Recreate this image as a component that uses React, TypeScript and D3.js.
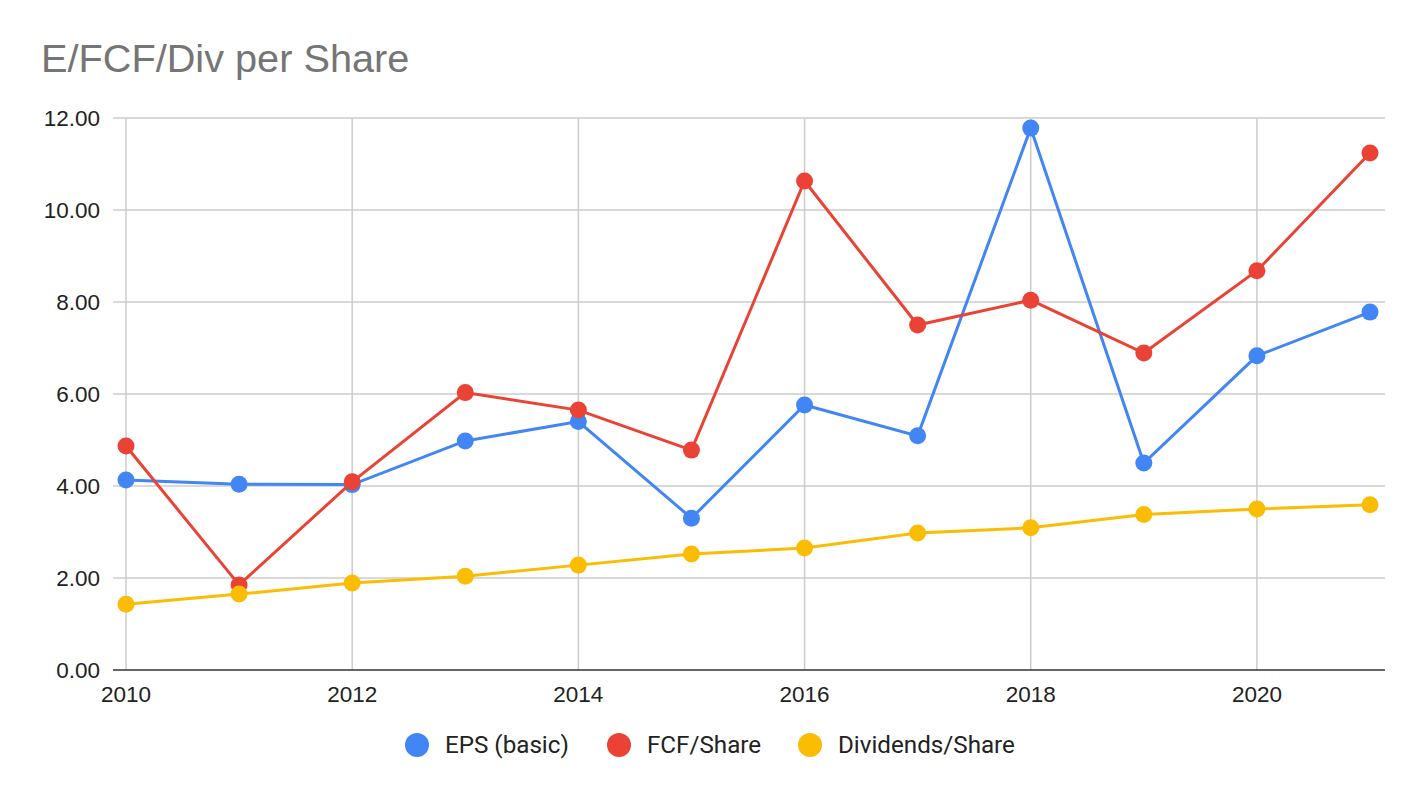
import React from "react";
import * as d3 from "d3";

const years = [2010, 2011, 2012, 2013, 2014, 2015, 2016, 2017, 2018, 2019, 2020, 2021];
const eps = [4.13, 4.04, 4.03, 4.98, 5.4, 3.3, 5.76, 5.09, 11.78, 4.5, 6.83, 7.78];
const fcf = [4.87, 1.85, 4.09, 6.03, 5.65, 4.78, 10.63, 7.5, 8.04, 6.89, 8.68, 11.24];
const div = [1.43, 1.65, 1.89, 2.04, 2.28, 2.52, 2.65, 2.98, 3.09, 3.38, 3.5, 3.59];
const yTicks = [0, 2, 4, 6, 8, 10, 12];
const xTicks = [2010, 2012, 2014, 2016, 2018, 2020];

const seriesNames = ["EPS (basic)", "FCF/Share", "Dividends/Share"];
const seriesColors = ["#4285F4", "#EA4335", "#FBBC04"];

const W = 1424;
const H = 798;
const font = "'Liberation Sans', Arial, sans-serif";

export default function App() {
  const x = d3.scaleLinear().domain([2010, 2021]).range([126, 1370]);
  const y = d3.scaleLinear().domain([0, 12]).range([670, 118]);
  const line = d3
    .line<number>()
    .x((_, i) => x(years[i]))
    .y((d) => y(d));

  const series = [eps, fcf, div];
  const legendX = [417, 619, 810];

  return (
    <svg width={W} height={H} style={{ position: "absolute", left: 0, top: 0, background: "#fff" }} fontFamily={font}>
      <text x={41} y={72} fontSize={39.7} fill="#757575">
        E/FCF/Div per Share
      </text>

      {yTicks.map((t) => (
        <g key={t}>
          {t > 0 && <line x1={113} x2={1385} y1={y(t)} y2={y(t)} stroke="#cccccc" strokeWidth={1.5} />}
          <text x={100} y={y(t) + 8} textAnchor="end" fontSize={22.5} fill="#222">
            {t.toFixed(2)}
          </text>
        </g>
      ))}
      {xTicks.map((t) => (
        <g key={t}>
          <line x1={x(t)} x2={x(t)} y1={118} y2={670} stroke="#cccccc" strokeWidth={1.5} />
          <text x={x(t)} y={702} textAnchor="middle" fontSize={22.5} fill="#222">
            {t}
          </text>
        </g>
      ))}
      <line x1={113} x2={1385} y1={y(0)} y2={y(0)} stroke="#333" strokeWidth={1.5} />

      {series.map((s, si) => (
        <g key={si}>
          <path d={line(s) ?? ""} fill="none" stroke={seriesColors[si]} strokeWidth={3} />
          {s.map((v, i) => (
            <circle key={i} cx={x(years[i])} cy={y(v)} r={8.5} fill={seriesColors[si]} />
          ))}
        </g>
      ))}

      {seriesNames.map((n, i) => (
        <g key={n}>
          <circle cx={legendX[i]} cy={745} r={12} fill={seriesColors[i]} />
          <text x={legendX[i] + 28} y={753} fontSize={24.2} fill="#222" fontFamily="Roboto, sans-serif">
            {n}
          </text>
        </g>
      ))}
    </svg>
  );
}
